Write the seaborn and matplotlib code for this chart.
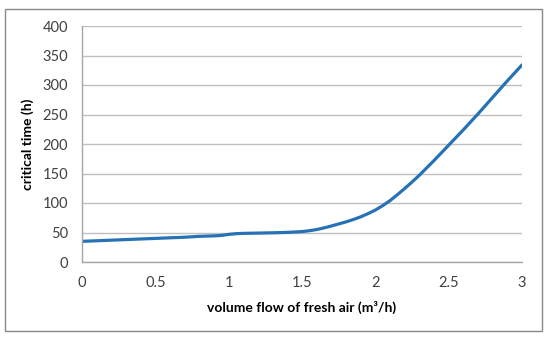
import numpy as np
import pandas as pd
import matplotlib.pyplot as plt
import seaborn as sns
from matplotlib.patches import Rectangle

# values
flow = [0.0, 0.1, 0.2, 0.3, 0.4, 0.5, 0.6, 0.7, 0.8, 0.9, 0.95, 1.0,
        1.05, 1.1, 1.2, 1.3, 1.4, 1.5, 1.55, 1.6, 1.65, 1.7, 1.75, 1.8,
        1.85, 1.9, 1.95, 2.0, 2.05, 2.1, 2.15, 2.2, 2.25, 2.3, 2.35, 2.4,
        2.45, 2.5, 2.6, 2.7, 2.8, 2.9, 3.0]
crit_time = [35, 36, 37, 38, 39, 40, 41, 42, 43.5, 44.3, 45, 46.8,
             48, 48.5, 49, 49.5, 50.2, 51.5, 53, 55, 57.8, 61, 64.5, 68,
             72, 76.5, 82, 88, 95.5, 104, 114, 124.5, 135.5, 147, 159.5, 172,
             185, 198, 224, 251, 279, 307, 334]
x_ticks = [0, 0.5, 1, 1.5, 2, 2.5, 3]
x_tick_labels = ["0", "0.5", "1", "1.5", "2", "2.5", "3"]
y_ticks = [0, 50, 100, 150, 200, 250, 300, 350, 400]

df = pd.DataFrame({"flow": flow, "time": crit_time})

sns.set_style("white")
plt.rcParams["font.family"] = ["Lato", "DejaVu Sans"]

fig = plt.figure(figsize=(5.5, 3.4), dpi=100)
ax = fig.add_axes([82 / 550, 1 - 262 / 340, 440 / 550, 236 / 340])

sns.lineplot(data=df, x="flow", y="time", ax=ax, color="#2672B5", linewidth=2.3)

ax.set_xlim(0, 3)
ax.set_ylim(0, 400)
ax.set_xticks(x_ticks)
ax.set_xticklabels(x_tick_labels)
ax.set_yticks(y_ticks)
ax.yaxis.grid(True, color="#BFBFBF", linewidth=1)
ax.xaxis.grid(False)
for s in ["top", "right"]:
    ax.spines[s].set_visible(False)
for s in ["left", "bottom"]:
    ax.spines[s].set_color("#A6A6A6")
    ax.spines[s].set_linewidth(1)
ax.tick_params(axis="both", direction="out", length=4, color="#A6A6A6",
               labelsize=10.5, labelcolor="#404040", pad=6)
ax.set_xlabel("volume flow of fresh air (m³/h)", fontsize=10, fontweight="bold",
              color="black", labelpad=8)
ax.set_ylabel("critical time (h)", fontsize=10, fontweight="bold",
              color="black", labelpad=6)

# outer frame around the chart
fig.patches.append(Rectangle((5 / 550, 1 - 331 / 340), 537 / 550, 322 / 340,
                             transform=fig.transFigure, fill=False,
                             edgecolor="#888888", linewidth=1))

plt.savefig("out.png", dpi=100)
plt.close()
